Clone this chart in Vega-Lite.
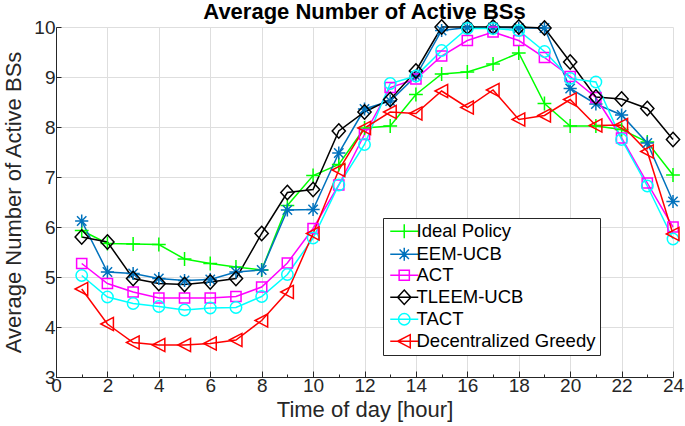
{
  "$schema": "https://vega.github.io/schema/vega-lite/v6.json",
  "width": 617,
  "height": 350,
  "autosize": {"type": "none"},
  "padding": {"left": 56, "top": 27, "right": 12, "bottom": 49},
  "background": "white",
  "config": {
    "font": "Liberation Sans",
    "view": {"stroke": null}
  },
  "title": {
    "text": "Average Number of Active BSs",
    "fontSize": 22,
    "fontWeight": "bold",
    "color": "black",
    "anchor": "middle",
    "frame": "group",
    "baseline": "bottom",
    "offset": 6,
    "dy": 35
  },
  "datasets": {
    "series": [
      {"hour": 1, "series": "Ideal Policy", "value": 5.93},
      {"hour": 2, "series": "Ideal Policy", "value": 5.67},
      {"hour": 3, "series": "Ideal Policy", "value": 5.66},
      {"hour": 4, "series": "Ideal Policy", "value": 5.65},
      {"hour": 5, "series": "Ideal Policy", "value": 5.36},
      {"hour": 6, "series": "Ideal Policy", "value": 5.27},
      {"hour": 7, "series": "Ideal Policy", "value": 5.2},
      {"hour": 8, "series": "Ideal Policy", "value": 5.14},
      {"hour": 9, "series": "Ideal Policy", "value": 6.43},
      {"hour": 10, "series": "Ideal Policy", "value": 7.03},
      {"hour": 11, "series": "Ideal Policy", "value": 7.25},
      {"hour": 12, "series": "Ideal Policy", "value": 7.98},
      {"hour": 13, "series": "Ideal Policy", "value": 8.02},
      {"hour": 14, "series": "Ideal Policy", "value": 8.65},
      {"hour": 15, "series": "Ideal Policy", "value": 9.06},
      {"hour": 16, "series": "Ideal Policy", "value": 9.1},
      {"hour": 17, "series": "Ideal Policy", "value": 9.26},
      {"hour": 18, "series": "Ideal Policy", "value": 9.48},
      {"hour": 19, "series": "Ideal Policy", "value": 8.47},
      {"hour": 20, "series": "Ideal Policy", "value": 8.02},
      {"hour": 21, "series": "Ideal Policy", "value": 8.02},
      {"hour": 22, "series": "Ideal Policy", "value": 7.95},
      {"hour": 23, "series": "Ideal Policy", "value": 7.7},
      {"hour": 24, "series": "Ideal Policy", "value": 7.04},
      {"hour": 1, "series": "EEM-UCB", "value": 6.12},
      {"hour": 2, "series": "EEM-UCB", "value": 5.1},
      {"hour": 3, "series": "EEM-UCB", "value": 5.07},
      {"hour": 4, "series": "EEM-UCB", "value": 4.97},
      {"hour": 5, "series": "EEM-UCB", "value": 4.93},
      {"hour": 6, "series": "EEM-UCB", "value": 4.95},
      {"hour": 7, "series": "EEM-UCB", "value": 5.1},
      {"hour": 8, "series": "EEM-UCB", "value": 5.14},
      {"hour": 9, "series": "EEM-UCB", "value": 6.34},
      {"hour": 10, "series": "EEM-UCB", "value": 6.35},
      {"hour": 11, "series": "EEM-UCB", "value": 7.48},
      {"hour": 12, "series": "EEM-UCB", "value": 8.36},
      {"hour": 13, "series": "EEM-UCB", "value": 8.52},
      {"hour": 14, "series": "EEM-UCB", "value": 9.02},
      {"hour": 15, "series": "EEM-UCB", "value": 9.93},
      {"hour": 16, "series": "EEM-UCB", "value": 9.99},
      {"hour": 17, "series": "EEM-UCB", "value": 9.99},
      {"hour": 18, "series": "EEM-UCB", "value": 9.98},
      {"hour": 19, "series": "EEM-UCB", "value": 9.98},
      {"hour": 20, "series": "EEM-UCB", "value": 8.77},
      {"hour": 21, "series": "EEM-UCB", "value": 8.46},
      {"hour": 22, "series": "EEM-UCB", "value": 8.24},
      {"hour": 23, "series": "EEM-UCB", "value": 7.68},
      {"hour": 24, "series": "EEM-UCB", "value": 6.51},
      {"hour": 1, "series": "ACT", "value": 5.27},
      {"hour": 2, "series": "ACT", "value": 4.87},
      {"hour": 3, "series": "ACT", "value": 4.7},
      {"hour": 4, "series": "ACT", "value": 4.58},
      {"hour": 5, "series": "ACT", "value": 4.58},
      {"hour": 6, "series": "ACT", "value": 4.58},
      {"hour": 7, "series": "ACT", "value": 4.61},
      {"hour": 8, "series": "ACT", "value": 4.8},
      {"hour": 9, "series": "ACT", "value": 5.28},
      {"hour": 10, "series": "ACT", "value": 5.97},
      {"hour": 11, "series": "ACT", "value": 6.84},
      {"hour": 12, "series": "ACT", "value": 7.85},
      {"hour": 13, "series": "ACT", "value": 8.79},
      {"hour": 14, "series": "ACT", "value": 8.96},
      {"hour": 15, "series": "ACT", "value": 9.42},
      {"hour": 16, "series": "ACT", "value": 9.73},
      {"hour": 17, "series": "ACT", "value": 9.9},
      {"hour": 18, "series": "ACT", "value": 9.73},
      {"hour": 19, "series": "ACT", "value": 9.39},
      {"hour": 20, "series": "ACT", "value": 9.01},
      {"hour": 21, "series": "ACT", "value": 8.59},
      {"hour": 22, "series": "ACT", "value": 7.78},
      {"hour": 23, "series": "ACT", "value": 6.88},
      {"hour": 24, "series": "ACT", "value": 6.0},
      {"hour": 1, "series": "TLEEM-UCB", "value": 5.8},
      {"hour": 2, "series": "TLEEM-UCB", "value": 5.7},
      {"hour": 3, "series": "TLEEM-UCB", "value": 4.97},
      {"hour": 4, "series": "TLEEM-UCB", "value": 4.87},
      {"hour": 5, "series": "TLEEM-UCB", "value": 4.85},
      {"hour": 6, "series": "TLEEM-UCB", "value": 4.9},
      {"hour": 7, "series": "TLEEM-UCB", "value": 4.97},
      {"hour": 8, "series": "TLEEM-UCB", "value": 5.87},
      {"hour": 9, "series": "TLEEM-UCB", "value": 6.69},
      {"hour": 10, "series": "TLEEM-UCB", "value": 6.75},
      {"hour": 11, "series": "TLEEM-UCB", "value": 7.92},
      {"hour": 12, "series": "TLEEM-UCB", "value": 8.3},
      {"hour": 13, "series": "TLEEM-UCB", "value": 8.55},
      {"hour": 14, "series": "TLEEM-UCB", "value": 9.12},
      {"hour": 15, "series": "TLEEM-UCB", "value": 10.0},
      {"hour": 16, "series": "TLEEM-UCB", "value": 10.0},
      {"hour": 17, "series": "TLEEM-UCB", "value": 10.0},
      {"hour": 18, "series": "TLEEM-UCB", "value": 10.0},
      {"hour": 19, "series": "TLEEM-UCB", "value": 9.98},
      {"hour": 20, "series": "TLEEM-UCB", "value": 9.3},
      {"hour": 21, "series": "TLEEM-UCB", "value": 8.6},
      {"hour": 22, "series": "TLEEM-UCB", "value": 8.56},
      {"hour": 23, "series": "TLEEM-UCB", "value": 8.37},
      {"hour": 24, "series": "TLEEM-UCB", "value": 7.75},
      {"hour": 1, "series": "TACT", "value": 5.03},
      {"hour": 2, "series": "TACT", "value": 4.6},
      {"hour": 3, "series": "TACT", "value": 4.47},
      {"hour": 4, "series": "TACT", "value": 4.41},
      {"hour": 5, "series": "TACT", "value": 4.34},
      {"hour": 6, "series": "TACT", "value": 4.38},
      {"hour": 7, "series": "TACT", "value": 4.39},
      {"hour": 8, "series": "TACT", "value": 4.61},
      {"hour": 9, "series": "TACT", "value": 5.05},
      {"hour": 10, "series": "TACT", "value": 5.78},
      {"hour": 11, "series": "TACT", "value": 6.84},
      {"hour": 12, "series": "TACT", "value": 7.65},
      {"hour": 13, "series": "TACT", "value": 8.87},
      {"hour": 14, "series": "TACT", "value": 9.02},
      {"hour": 15, "series": "TACT", "value": 9.53},
      {"hour": 16, "series": "TACT", "value": 9.97},
      {"hour": 17, "series": "TACT", "value": 9.97},
      {"hour": 18, "series": "TACT", "value": 9.93},
      {"hour": 19, "series": "TACT", "value": 9.51},
      {"hour": 20, "series": "TACT", "value": 8.97},
      {"hour": 21, "series": "TACT", "value": 8.9},
      {"hour": 22, "series": "TACT", "value": 7.75},
      {"hour": 23, "series": "TACT", "value": 6.82},
      {"hour": 24, "series": "TACT", "value": 5.76},
      {"hour": 1, "series": "Decentralized Greedy", "value": 4.76},
      {"hour": 2, "series": "Decentralized Greedy", "value": 4.06},
      {"hour": 3, "series": "Decentralized Greedy", "value": 3.69},
      {"hour": 4, "series": "Decentralized Greedy", "value": 3.64},
      {"hour": 5, "series": "Decentralized Greedy", "value": 3.64},
      {"hour": 6, "series": "Decentralized Greedy", "value": 3.67},
      {"hour": 7, "series": "Decentralized Greedy", "value": 3.74},
      {"hour": 8, "series": "Decentralized Greedy", "value": 4.13},
      {"hour": 9, "series": "Decentralized Greedy", "value": 4.7},
      {"hour": 10, "series": "Decentralized Greedy", "value": 5.87},
      {"hour": 11, "series": "Decentralized Greedy", "value": 7.14},
      {"hour": 12, "series": "Decentralized Greedy", "value": 7.98},
      {"hour": 13, "series": "Decentralized Greedy", "value": 8.3},
      {"hour": 14, "series": "Decentralized Greedy", "value": 8.27},
      {"hour": 15, "series": "Decentralized Greedy", "value": 8.72},
      {"hour": 16, "series": "Decentralized Greedy", "value": 8.39},
      {"hour": 17, "series": "Decentralized Greedy", "value": 8.74},
      {"hour": 18, "series": "Decentralized Greedy", "value": 8.15},
      {"hour": 19, "series": "Decentralized Greedy", "value": 8.23},
      {"hour": 20, "series": "Decentralized Greedy", "value": 8.55},
      {"hour": 21, "series": "Decentralized Greedy", "value": 8.03},
      {"hour": 22, "series": "Decentralized Greedy", "value": 8.04},
      {"hour": 23, "series": "Decentralized Greedy", "value": 7.51},
      {"hour": 24, "series": "Decentralized Greedy", "value": 5.86}
    ]
  },
  "data": {"name": "series"},
  "encoding": {
    "x": {
      "field": "hour",
      "type": "quantitative",
      "scale": {"domain": [0, 24], "nice": false, "zero": false},
      "axis": {
        "title": "Time of day [hour]",
        "titleFontSize": 22,
        "titleFontWeight": "normal",
        "titleColor": "#262626",
        "titlePadding": 1,
        "values": [0,1,2,3,4,5,6,7,8,9,10,11,12,13,14,15,16,17,18,19,20,21,22,23,24],
        "labelExpr": "datum.value % 2 === 0 ? datum.label : ''",
        "labelFontSize": 19,
        "labelColor": "#262626",
        "labelPadding": 5,
        "labelFlush": false,
        "labelOverlap": false,
        "domainColor": "#262626",
        "domainWidth": 1,
        "tickColor": "#262626",
        "tickWidth": 1,
        "tickSize": {"condition": {"test": "datum.value % 2 === 0", "value": -6}, "value": -3},
        "grid": true,
        "gridColor": "#dedede",
        "gridWidth": 1,
        "gridOpacity": {"condition": {"test": "datum.value % 2 === 0", "value": 1}, "value": 0}
      }
    },
    "y": {
      "field": "value",
      "type": "quantitative",
      "scale": {"domain": [3, 10], "nice": false, "zero": false},
      "axis": {
        "title": "Average Number of Active BSs",
        "titleFontSize": 22,
        "titleFontWeight": "normal",
        "titleColor": "#262626",
        "titlePadding": 8,
        "values": [3,4,5,6,7,8,9,10],
        "labelFontSize": 19,
        "labelColor": "#262626",
        "labelPadding": 6,
        "labelFlush": false,
        "domainColor": "#262626",
        "domainWidth": 1,
        "tickColor": "#262626",
        "tickSize": -5,
        "grid": true,
        "gridColor": "#dedede",
        "gridWidth": 1
      }
    }
  },
  "layer": [
    {
      "mark": {"type": "line", "strokeWidth": 1.5},
      "encoding": {
        "color": {
          "field": "series",
          "type": "nominal",
          "scale": {
            "domain": ["Ideal Policy", "EEM-UCB", "ACT", "TLEEM-UCB", "TACT", "Decentralized Greedy"],
            "range": ["#00ff00", "#0072bd", "#ff00ff", "#000000", "#00ffff", "#ff0000"]
          },
          "legend": {
            "title": null, "orient": "none", "legendX": 327, "legendY": 191, "direction": "vertical",
            "padding": 4, "rowPadding": 2, "fillColor": "white", "strokeColor": "#262626",
            "labelFontSize": 18.5, "labelColor": "#000000", "labelOffset": 11, "labelLimit": 400,
            "labelExpr": "datum.label + '   '", "symbolSize": 144, "symbolStrokeWidth": 1.5
          }
        }
      }
    },
    {
      "transform": [{"filter": "datum.series === 'Ideal Policy'"}],
      "mark": {"type": "point", "filled": false, "strokeWidth": 1.5, "size": 144, "opacity": 1, "color": "#00ff00", "shape": "M-1.15,0H1.15M0,-1.15V1.15"}
    },
    {
      "transform": [{"filter": "datum.series === 'EEM-UCB'"}],
      "mark": {"type": "point", "filled": false, "strokeWidth": 1.5, "size": 144, "opacity": 1, "color": "#0072bd", "shape": "M-1.1,0H1.1M0,-1.1V1.1M-0.78,-0.78L0.78,0.78M-0.78,0.78L0.78,-0.78"}
    },
    {
      "transform": [{"filter": "datum.series === 'ACT'"}],
      "mark": {"type": "point", "filled": false, "strokeWidth": 1.5, "size": 144, "opacity": 1, "color": "#ff00ff", "shape": "M-0.85,-0.85H0.85V0.85H-0.85Z"}
    },
    {
      "transform": [{"filter": "datum.series === 'TLEEM-UCB'"}],
      "mark": {"type": "point", "filled": false, "strokeWidth": 1.5, "size": 144, "opacity": 1, "color": "#000000", "shape": "M0,-1.2L1.1,0L0,1.2L-1.1,0Z"}
    },
    {
      "transform": [{"filter": "datum.series === 'TACT'"}],
      "mark": {"type": "point", "filled": false, "strokeWidth": 1.5, "size": 144, "opacity": 1, "color": "#00ffff", "shape": "M-0.95,0A0.95,0.95,0,1,0,0.95,0A0.95,0.95,0,1,0,-0.95,0Z"}
    },
    {
      "transform": [{"filter": "datum.series === 'Decentralized Greedy'"}],
      "mark": {"type": "point", "filled": false, "strokeWidth": 1.5, "size": 144, "opacity": 1, "color": "#ff0000", "shape": "M-1.1,0L1,-1.1L1,1.1Z"}
    },
    {
      "transform": [{"filter": "false"}],
      "mark": {"type": "point", "filled": false, "strokeWidth": 1.5, "size": 144, "opacity": 1},
      "encoding": {
        "color": {
          "field": "series",
          "type": "nominal",
          "legend": {
            "title": null, "orient": "none", "legendX": 327, "legendY": 191, "direction": "vertical",
            "padding": 4, "rowPadding": 2, "fillColor": "white", "strokeColor": "#262626",
            "labelFontSize": 18.5, "labelColor": "#000000", "labelOffset": 11, "labelLimit": 400,
            "labelExpr": "datum.label + '   '", "symbolSize": 144, "symbolStrokeWidth": 1.5
          }
        },
        "shape": {
          "field": "series",
          "type": "nominal",
          "scale": {
            "domain": ["Ideal Policy", "EEM-UCB", "ACT", "TLEEM-UCB", "TACT", "Decentralized Greedy"],
            "range": [
              "M-1,0H3.667M0.183,0H2.483M1.333,-1.15V1.15",
              "M-1,0H3.667M1.333,-1.1V1.1M0.553,-0.78L2.113,0.78M0.553,0.78L2.113,-0.78",
              "M-1,0H3.667M0.483,-0.85H2.183V0.85H0.483Z",
              "M-1,0H3.667M1.333,-1.2L2.433,0L1.333,1.2L0.233,0Z",
              "M-1,0H3.667M0.383,0A0.95,0.95,0,1,0,2.283,0A0.95,0.95,0,1,0,0.383,0Z",
              "M-1,0H3.667M0.233,0L2.333,-1.1L2.333,1.1Z"
            ]
          },
          "legend": {
            "title": null, "orient": "none", "legendX": 327, "legendY": 191, "direction": "vertical",
            "padding": 4, "rowPadding": 2, "fillColor": "white", "strokeColor": "#262626",
            "labelFontSize": 18.5, "labelColor": "#000000", "labelOffset": 11, "labelLimit": 400,
            "labelExpr": "datum.label + '   '", "symbolSize": 144, "symbolStrokeWidth": 1.5
          }
        }
      }
    }
  ]
}
